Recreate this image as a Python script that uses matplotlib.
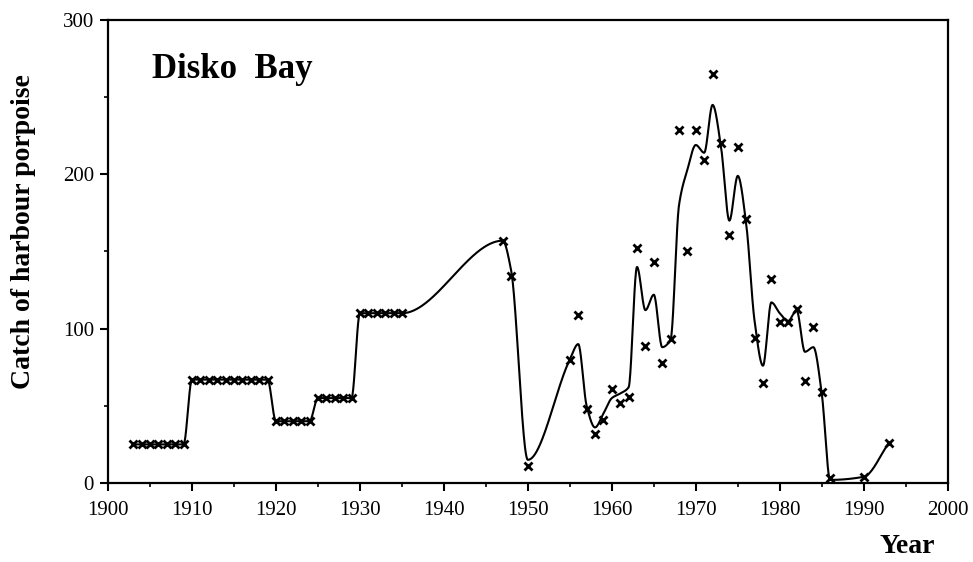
import numpy as np
import matplotlib
matplotlib.use("Agg")
import matplotlib.pyplot as plt
from matplotlib.ticker import MultipleLocator

# catch records (markers)
years = (list(range(1903, 1910)) + list(range(1910, 1920)) + list(range(1920, 1925))
         + list(range(1925, 1930)) + list(range(1930, 1936))
         + [1947, 1948, 1950, 1955, 1956, 1957, 1958, 1959, 1960, 1961, 1962,
            1963, 1964, 1965, 1966, 1967, 1968, 1969, 1970, 1971, 1972, 1973,
            1974, 1975, 1976, 1977, 1978, 1979, 1980, 1981, 1982, 1983, 1984,
            1985, 1986, 1990, 1993])
catch = ([25] * 7 + [67] * 10 + [40] * 5 + [55] * 5 + [110] * 6
         + [157, 134, 11, 80, 109, 48, 32, 41, 61, 52, 56,
            152, 89, 143, 78, 93, 229, 150, 229, 209, 265, 220,
            161, 218, 171, 94, 65, 132, 104, 104, 113, 66, 101,
            59, 3, 4, 26])

# smoothed trend line, value of the curve at the same years
trend = ([25] * 7 + [67] * 10 + [40] * 5 + [55] * 5 + [110] * 6
         + [157, 138, 15, 80, 90, 50, 36, 45, 55, 58, 62,
            140, 112, 122, 88, 93, 180, 203, 219, 214, 245, 218,
            170, 199, 168, 105, 76, 117, 110, 105, 112, 85, 88,
            58, 2, 4, 26])


def pchip(x, y, xn):
    # monotone cubic (Fritsch-Carlson), keeps flat runs flat
    x = np.asarray(x, float)
    y = np.asarray(y, float)
    h = np.diff(x)
    d = np.diff(y) / h
    m = np.zeros_like(y)
    for k in range(1, len(x) - 1):
        if d[k - 1] * d[k] > 0:
            w1 = 2 * h[k] + h[k - 1]
            w2 = h[k] + 2 * h[k - 1]
            m[k] = (w1 + w2) / (w1 / d[k - 1] + w2 / d[k])
    m[0] = d[0]
    m[-1] = d[-1]
    i = np.clip(np.searchsorted(x, xn) - 1, 0, len(x) - 2)
    t = (xn - x[i]) / h[i]
    h00 = 2 * t**3 - 3 * t**2 + 1
    h10 = t**3 - 2 * t**2 + t
    h01 = -2 * t**3 + 3 * t**2
    h11 = t**3 - t**2
    return h00 * y[i] + h10 * h[i] * m[i] + h01 * y[i + 1] + h11 * h[i] * m[i + 1]


serif = "Liberation Serif"

fig = plt.figure(figsize=(9.73, 5.62), dpi=100)
ax = fig.add_axes([0.111, 0.1406, 0.863, 0.8238])

xs = np.linspace(years[0], years[-1], 2000)
ax.plot(xs, pchip(years, trend, xs), color="black", lw=1.5)
ax.plot(years, catch, linestyle="none", marker="x", color="black",
        markersize=6, markeredgewidth=2)

ax.set_xlim(1900, 2000)
ax.set_ylim(0, 300)
ax.xaxis.set_major_locator(MultipleLocator(10))
ax.xaxis.set_minor_locator(MultipleLocator(5))
ax.yaxis.set_major_locator(MultipleLocator(100))
ax.yaxis.set_minor_locator(MultipleLocator(50))
ax.tick_params(which="major", direction="out", length=6, width=1.5,
               labelsize=15)
ax.tick_params(axis="x", which="major", pad=7)
ax.tick_params(axis="y", which="major", pad=4)
ax.tick_params(which="minor", direction="out", length=3, width=1.2)
for lab in ax.get_xticklabels() + ax.get_yticklabels():
    lab.set_fontfamily(serif)
for s in ax.spines.values():
    s.set_linewidth(1.6)

fig.text(152 / 973, 1 - 78 / 562, "Disko  Bay", family=serif, weight="bold",
         fontsize=25, va="baseline", ha="left")
fig.text(24 / 973, 1 - 232 / 562, "Catch of harbour porpoise", family=serif,
         weight="bold", fontsize=20, rotation=90, va="center", ha="center")
fig.text(907 / 973, 1 - 553 / 562, "Year", family=serif, weight="bold",
         fontsize=20, va="baseline", ha="center")

fig.savefig("out.png", dpi=100)
